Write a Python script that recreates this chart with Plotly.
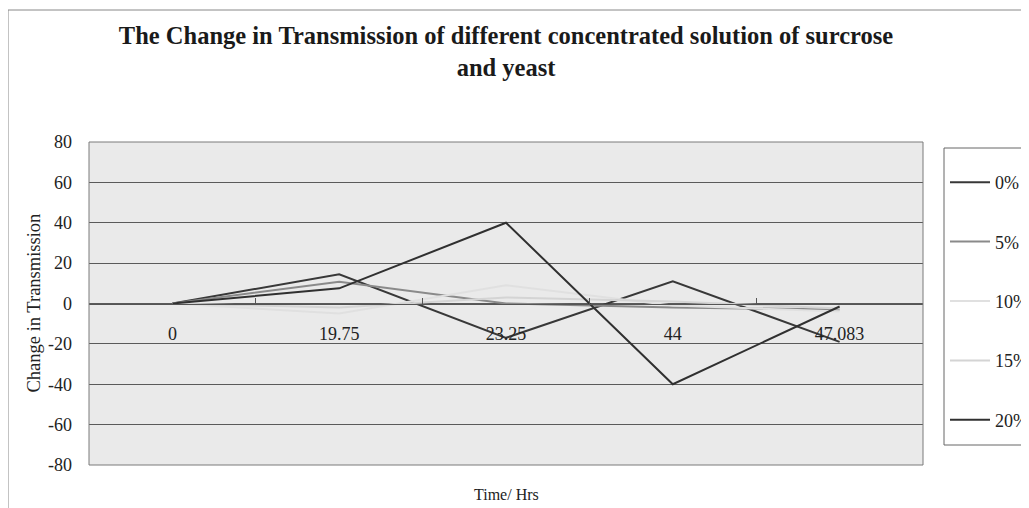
import plotly.graph_objects as go

# ---- data ----
times = ["0", "19.75", "23.25", "44", "47.083"]
series_names = ["0%", "5%", "10%", "15%", "20%"]
conc_0 = [0, 14.5, -17, 11, -19]
conc_5 = [0, 10.8, 0, -2, -3]
conc_10 = [0, -5, 9, -1, -4]
conc_15 = [0, -2, 3, 1, -2.5]
conc_20 = [0, 7.5, 40, -40, -1.5]
y_tick_values = [-80, -60, -40, -20, 0, 20, 40, 60, 80]
y_tick_labels = ["-80", "-60", "-40", "-20", "0", "20", "40", "60", "80"]

series_values = [conc_0, conc_5, conc_10, conc_15, conc_20]
series_colors = ["#383838", "#8a8a8a", "#e0e0e0", "#d4d4d4", "#303030"]
series_widths = [2, 2, 2, 2, 2]

FONT = "Liberation Serif, Times New Roman, serif"

# page is rendered with an 8px body margin; work in page pixels
OFF = 8
W, H = 1029 - OFF, 508 - OFF
PL, PR, PT, PB = 89, 923, 142, 465          # plot area in page pixels
L, R, T, B = PL - OFF, W - (PR - OFF), PT - OFF, H - (PB - OFF)
pw, ph = W - L - R, H - T - B


def px_x(px):
    """page pixel x -> paper fraction"""
    return (px - OFF - L) / pw


def px_y(py):
    """page pixel y -> paper fraction"""
    return (H - B - (py - OFF)) / ph


fig = go.Figure()
for i, (name, vals) in enumerate(zip(series_names, series_values)):
    fig.add_trace(go.Scatter(
        x=times, y=vals, name=name, mode="lines",
        line=dict(color=series_colors[i], width=series_widths[i]),
        legendgroup=name,
    ))

fig.update_layout(
    width=W, height=H,
    margin=dict(l=L, r=R, t=T, b=B, autoexpand=False),
    paper_bgcolor="white",
    plot_bgcolor="#eaeaea",
    font=dict(family=FONT, size=18, color="#222222"),
    title=dict(
        text="<b>The Change in Transmission of different concentrated solution of surcrose</b><br><b>and yeast</b>",
        x=0.5, xref="paper", xanchor="center",
        y=1 - (44 - OFF) / H, yanchor="top", yref="container",
        font=dict(family=FONT, size=24.5, color="#1a1a1a"),
    ),
    showlegend=True,
    legend=dict(
        x=px_x(945), xanchor="left",
        y=px_y(164), yanchor="top",
        bgcolor="rgba(0,0,0,0)", borderwidth=0,
        font=dict(family=FONT, size=18, color="#222222"),
        tracegroupgap=33,
        traceorder="grouped",
        itemwidth=40,
    ),
    xaxis=dict(
        type="category", categoryorder="array", categoryarray=times,
        range=[-0.5, 4.5],
        anchor="free", position=0.5,
        showline=True, linecolor="#555555", linewidth=1,
        ticks="inside", ticklen=6, tickcolor="#555555", tickson="boundaries",
        showgrid=False, zeroline=False,
        ticklabelstandoff=14,
        tickfont=dict(family=FONT, size=18, color="#222222"),
    ),
    yaxis=dict(
        range=[-80, 80], tickvals=y_tick_values, ticktext=y_tick_labels,
        showgrid=True, gridcolor="#5a5a5a", gridwidth=1,
        zeroline=False, showline=False,
        ticks="", ticklabelstandoff=16,
        tickfont=dict(family=FONT, size=18, color="#222222"),
    ),
    shapes=[
        dict(type="rect", xref="paper", yref="paper", x0=0, x1=1, y0=0, y1=1,
             line=dict(color="#7a7a7a", width=1), layer="above"),
        dict(type="rect", xref="paper", yref="paper",
             x0=px_x(944), x1=px_x(1060),
             y0=px_y(445), y1=px_y(148),
             line=dict(color="#666666", width=1)),
        dict(type="rect", xref="paper", yref="paper",
             x0=px_x(8), x1=px_x(1060),
             y0=px_y(540), y1=px_y(10),
             line=dict(color="#888888", width=1)),
    ],
    annotations=[
        dict(text="Time/ Hrs", xref="paper", yref="paper",
             x=0.5, y=px_y(494), xanchor="center", yanchor="middle",
             showarrow=False, font=dict(family=FONT, size=16, color="#222222")),
        dict(text="Change in Transmission", xref="paper", yref="paper",
             x=px_x(33), y=0.5, xanchor="center", yanchor="middle",
             textangle=-90, showarrow=False,
             font=dict(family=FONT, size=18.5, color="#222222")),
    ],
)

fig.write_html("out.html")
